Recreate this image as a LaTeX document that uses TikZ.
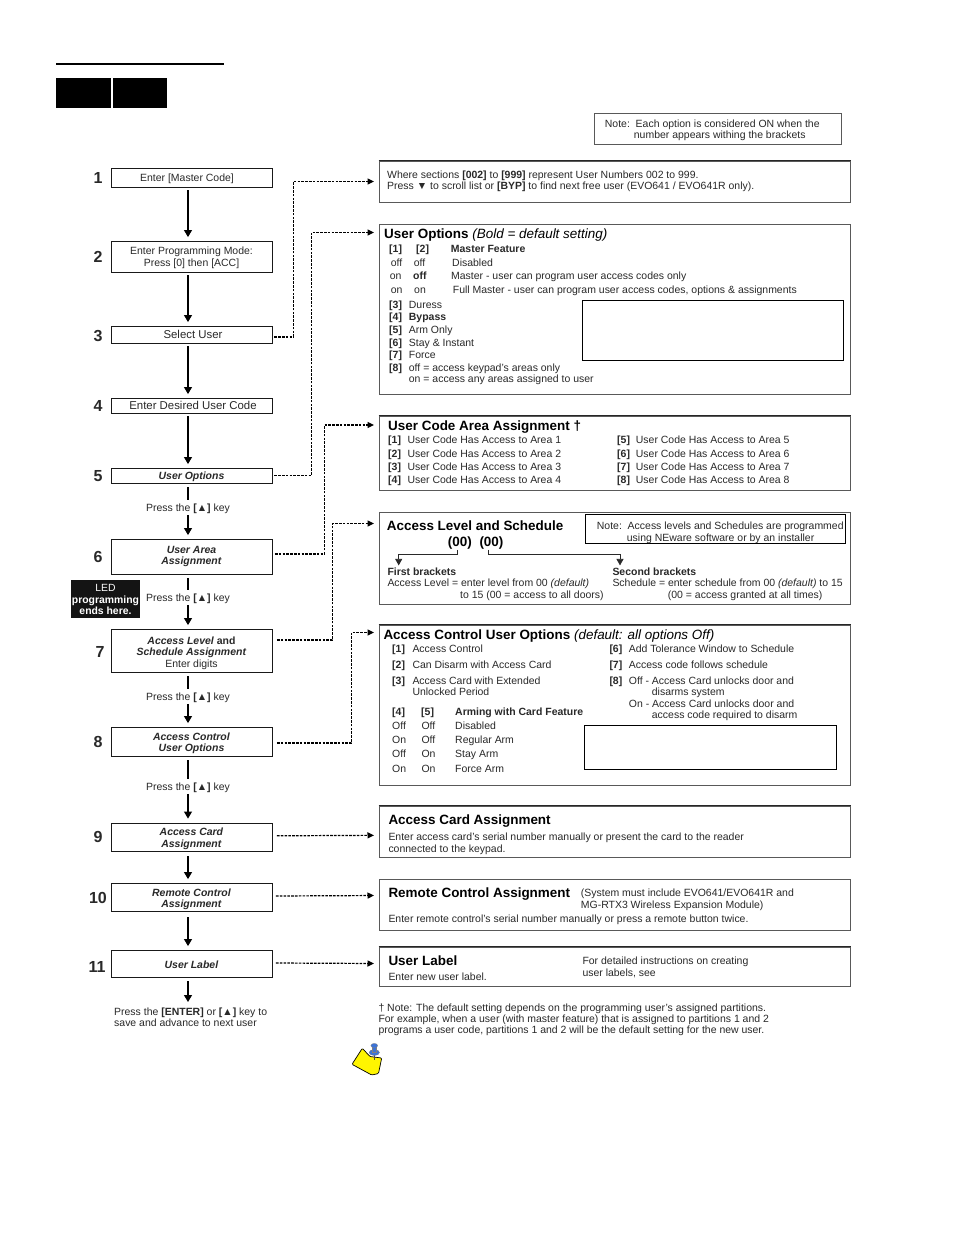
\documentclass[tikz,border=0pt]{standalone}
\usepackage{fontspec}
\setmainfont{Liberation Sans}
\usetikzlibrary{arrows.meta}
\definecolor{inkgray}{gray}{0.16}
\definecolor{paneledge}{gray}{0.35}
\definecolor{pinblue}{RGB}{60,115,215}
\definecolor{noteyellow}{RGB}{255,245,0}
\newcommand{\plainfont}{\fontsize{10.47}{11.6}\selectfont}
\newcommand{\headfont}{\fontsize{13.45}{15}\selectfont}
\newcommand{\boldit}[1]{\textbf{\textit{#1}}}
\newcommand{\drop}[1]{\rule{0pt}{#1}}
\tikzset{
  stepbox/.style={draw=black!90,line width=0.9pt,fill=white,minimum width=161pt,inner sep=0pt,align=center,text=inkgray,font=\plainfont},
  stepnum/.style={inner sep=0pt,text=inkgray,font=\fontsize{16}{18}\selectfont\bfseries},
  panel/.style={draw=paneledge,line width=1pt,fill=white,minimum width=471pt,inner sep=0pt},
  panelhead/.style={draw=black!85,line width=1.3pt},
  blank/.style={draw=black,line width=0.8pt,fill=white,inner sep=0pt},
  txt/.style={anchor=west,inner sep=0pt,text height=10pt,text depth=2.2pt,text=inkgray,font=\plainfont},
  head/.style={anchor=west,inner sep=0pt,text height=12.5pt,text depth=2.8pt,text=black,font=\headfont},
  presskey/.style={inner xsep=0pt,inner ysep=1pt,outer sep=0pt,text height=10.5pt,text depth=2.2pt,text=inkgray,font=\plainfont},
  flow/.style={line width=1.1pt,draw=black,-{Triangle[length=7pt,width=8pt]}},
  flowplain/.style={line width=1.1pt,draw=black},
  link/.style={line width=1.2pt,dash pattern=on 2.6pt off 1.2pt,draw=black,-{Triangle[length=6.5pt,width=6pt]},shorten >=4.5pt},
  bracketline/.style={line width=0.7pt,draw=inkgray,-{Triangle[length=6.5pt,width=7pt]}},
}
\begin{document}
\begin{tikzpicture}[x=1pt,y=-1pt]
\useasboundingbox (0,0) rectangle (954,1235);
\fill[white] (0,0) rectangle (954,1235);
\coordinate (spine) at (188,0);

% page header
\node[fill=black,minimum width=168pt,minimum height=2.4pt,inner sep=0pt] (rule) at (140,64) {};
\node[fill=black,minimum width=55pt,minimum height=30pt,inner sep=0pt] (tabA) at (83.5,93) {};
\node[fill=black,minimum width=54pt,minimum height=30pt,inner sep=0pt] (tabB) at (140,93) {};
\node[draw=paneledge,line width=1pt,minimum width=247pt,minimum height=31pt,inner sep=0pt] (topnote) at (717.5,128.5) {};
\node[txt] (topnoteA) at (604.7,124) {Note:\ \ Each option is considered ON when the};
\node[txt] (topnoteB) at (633.7,135) {number appears withing the brackets};

% left column
\node[stepbox,minimum height=19pt] (b1) at (191.5,177.5) {\drop{10pt}Enter [Master Code]\hspace*{9pt}};
\node[stepbox,minimum height=31pt] (b2) at (191.5,256.5) {\drop{10pt}Enter Programming Mode:\\Press [0] then [ACC]};
\node[stepbox,minimum height=17pt,font=\fontsize{11.4}{13}\selectfont] (b3) at (191.5,334.5) {\hspace*{3pt}Select User};
\node[stepbox,minimum height=15pt,font=\fontsize{11.4}{13}\selectfont] (b4) at (191.5,405.5) {\hspace*{3pt}Enter Desired User Code};
\node[stepbox,minimum height=15pt] (b5) at (191.5,475.5) {\drop{10pt}\boldit{User Options}};
\node[stepbox,minimum height=35pt] (b6) at (191.5,556.5) {\boldit{User Area}\\\boldit{Assignment}};
\node[stepbox,minimum height=43pt] (b7) at (191.5,650.5) {\drop{13pt}\boldit{Access Level} \textbf{and}\\\boldit{Schedule Assignment}\\Enter digits};
\node[stepbox,minimum height=29pt] (b8) at (191.5,741.5) {\drop{11pt}\boldit{Access Control}\\\boldit{User Options}};
\node[stepbox,minimum height=28pt] (b9) at (191.5,837) {\drop{11pt}\boldit{Access Card}\\\boldit{Assignment}};
\node[stepbox,minimum height=28pt] (b10) at (191.5,897) {\drop{12pt}\boldit{Remote Control}\\\boldit{Assignment}};
\node[stepbox,minimum height=27pt] (b11) at (191.5,963.5) {\drop{10.5pt}\boldit{User Label}};

\node[stepnum] (n1) at (98,178) {1};
\node[stepnum] (n2) at (98,257) {2};
\node[stepnum] (n3) at (98,336) {3};
\node[stepnum] (n4) at (98,406) {4};
\node[stepnum] (n5) at (98,476) {5};
\node[stepnum] (n6) at (98,557) {6};
\node[stepnum] (n7) at (100,652) {7};
\node[stepnum] (n8) at (98,742) {8};
\node[stepnum] (n9) at (98,837) {9};
\node[stepnum] (n10) at (98,898) {10};
\node[stepnum] (n11) at (97,967) {11};

\node[presskey] (key5) at (188,507.5) {Press the \textbf{[▲]} key};
\node[presskey] (key6) at (188,597.5) {Press the \textbf{[▲]} key};
\node[presskey] (key7) at (188,696.5) {Press the \textbf{[▲]} key};
\node[presskey] (key8) at (188,786.5) {Press the \textbf{[▲]} key};
\node[fill=black!92,minimum width=69pt,minimum height=38pt,inner sep=0pt,align=center,text=white,font=\fontsize{10.4}{11.5}\selectfont\bfseries] (ledflag) at (105.5,599) {\drop{9pt}\mdseries LED\\programming\\ends here.};
\node[anchor=north west,inner sep=0pt,align=left,text=inkgray,font=\plainfont] (savenote) at (114,1007.5) {Press the \textbf{[ENTER]} or \textbf{[▲]} key to\\save and advance to next user};

\draw[flow,shorten <=3pt,shorten >=3.5pt] (b1.south -| spine) -- (b2.north -| spine);
\draw[flow,shorten <=3pt,shorten >=3.5pt] (b2.south -| spine) -- (b3.north -| spine);
\draw[flow,shorten <=3pt,shorten >=3.5pt] (b3.south -| spine) -- (b4.north -| spine);
\draw[flow,shorten <=3pt,shorten >=3.5pt] (b4.south -| spine) -- (b5.north -| spine);
\draw[flowplain,shorten <=4pt] (b5.south -| spine) -- (key5.north);
\draw[flow,shorten >=3.5pt] (key5.south) -- (b6.north -| spine);
\draw[flowplain,shorten <=4pt] (b6.south -| spine) -- (key6.north);
\draw[flow,shorten >=3.5pt] (key6.south) -- (b7.north -| spine);
\draw[flowplain,shorten <=4pt] (b7.south -| spine) -- (key7.north);
\draw[flow,shorten >=3.5pt] (key7.south) -- (b8.north -| spine);
\draw[flowplain,shorten <=4pt] (b8.south -| spine) -- (key8.north);
\draw[flow,shorten >=4pt] (key8.south) -- (b9.north -| spine);
\draw[flow,shorten <=5pt,shorten >=3.5pt] (b9.south -| spine) -- (b10.north -| spine);
\draw[flow,shorten <=6pt,shorten >=3.5pt] (b10.south -| spine) -- (b11.north -| spine);
\draw[flow,shorten <=4pt,shorten >=5.5pt] (b11.south -| spine) -- (savenote.north -| spine);

% right column
\node[panel,minimum height=41pt] (p1) at (614.5,181.5) {};
\node[panel,minimum height=170pt] (p2) at (614.5,309) {};
\node[panel,minimum height=74pt] (p3) at (614.5,453) {};
\node[panel,minimum height=92pt] (p4) at (614.5,558) {};
\node[panel,minimum height=160pt] (p5) at (614.5,705) {};
\node[panel,minimum height=51pt] (p6) at (614.5,831.5) {};
\node[panel,minimum height=51pt] (p7) at (614.5,904.5) {};
\node[panel,minimum height=39pt] (p8) at (614.5,966.5) {};
\draw[panelhead] (p1.north west) -- (p1.north east);
\draw[panelhead] (p3.north west) -- (p3.north east);
\draw[panelhead] (p5.north west) -- (p5.north east);
\draw[panelhead] (p6.north west) -- (p6.north east);
\draw[panelhead] (p8.north west) -- (p8.north east);

\draw[link] ([xshift=2pt,yshift=-2.5pt]b3.east) -| ([xshift=-85pt,yshift=-21pt]p1.north west) -- ([yshift=-21pt]p1.north west);
\draw[link] ([xshift=2pt]b5.east) -| ([xshift=-67pt,yshift=-9pt]p2.north west) -- ([yshift=-9pt]p2.north west);
\draw[link] ([xshift=2.5pt,yshift=2.5pt]b6.east) -| ([xshift=-54pt,yshift=-9.5pt]p3.north west) -- ([yshift=-9.5pt]p3.north west);
\draw[link] ([xshift=4.5pt,yshift=10.5pt]b7.east) -| ([xshift=-46pt,yshift=-12pt]p4.north west) -- ([yshift=-12pt]p4.north west);
\draw[link] ([xshift=4.5pt,yshift=-1.5pt]b8.east) -| ([xshift=-27pt,yshift=-8pt]p5.north west) -- ([yshift=-8pt]p5.north west);
\draw[link] ([xshift=4.5pt,yshift=1.2pt]b9.east) -- ([yshift=-29.8pt]p6.north west);
\draw[link] ([xshift=3.5pt,yshift=1pt]b10.east) -- ([yshift=-17pt]p7.north west);
\draw[link] ([xshift=3.5pt,yshift=0.5pt]b11.east) -- ([yshift=-17pt]p8.north west);

% panel 1
\node[txt] (whereA) at (387,174.7) {Where sections \textbf{[002]} to \textbf{[999]} represent User Numbers 002 to 999.};
\node[txt] (whereB) at (387,186) {Press ▼ to scroll list or \textbf{[BYP]} to find next free user (EVO641 / EVO641R only).};

% panel 2
\node[head] (optT) at (384,234) {\textbf{User Options} \textit{(Bold = default setting)}};
\node[txt] (optH1) at (389,248.5) {\textbf{[1]}};
\node[txt] (optH2) at (416,248.5) {\textbf{[2]}};
\node[txt] (optH3) at (450.7,248.5) {\textbf{Master Feature}};
\node[txt] (optA1) at (390.7,263) {off};
\node[txt] (optA2) at (413.7,263) {off};
\node[txt] (optA3) at (452,263) {Disabled};
\node[txt] (optB1) at (389.7,276) {on};
\node[txt] (optB2) at (413,276) {\textbf{off}};
\node[txt] (optB3) at (451,276) {Master - user can program user access codes only};
\node[txt] (optC1) at (390.7,289.3) {on};
\node[txt] (optC2) at (414,289.3) {on};
\node[txt] (optC3) at (452.7,289.3) {Full Master - user can program user access codes, options \& assignments};
\foreach \n/\y/\t in {3/304.3/Duress,4/317/\textbf{Bypass},5/329.3/Arm Only,6/342.3/Stay \& Instant,7/355/Force,8/367.7/off = access keypad's areas only} {
  \node[txt] (optK\n) at (389,\y) {\textbf{[\n]}};
  \node[txt] (optV\n) at (408.7,\y) {\t};
}
\node[txt] (optV9) at (408.7,379) {on = access any areas assigned to user};
\node[blank,minimum width=261pt,minimum height=60pt] (blankA) at (712.5,330) {};

% panel 3
\node[head] (areaT) at (388,426) {\textbf{User Code Area Assignment †}};
\foreach \n/\m/\y in {1/5/440,2/6/453.3,3/7/466.3,4/8/479.7} {
  \node[txt] (areaK\n) at (388,\y) {\textbf{[\n]}};
  \node[txt] (areaV\n) at (407.3,\y) {User Code Has Access to Area \n};
  \node[txt] (areaK\m) at (617,\y) {\textbf{[\m]}};
  \node[txt] (areaV\m) at (635.7,\y) {User Code Has Access to Area \m};
}

% panel 4
\node[head] (lvlT) at (386.7,525.7) {\textbf{Access Level and Schedule}};
\node[head] (lvlA) at (447.7,542) {\textbf{(00)}};
\node[head] (lvlB) at (479.3,542) {\textbf{(00)}};
\node[blank,line width=1pt,minimum width=260pt,minimum height=29pt] (lvlnote) at (715,528.5) {};
\node[txt] (lvlnoteA) at (596.7,526) {Note:\ \ Access levels and Schedules are programmed};
\node[txt] (lvlnoteB) at (626.7,537.3) {using NEware software or by an installer};
\node[txt] (firstT) at (387.3,571.7) {\textbf{First brackets}};
\node[txt] (secondT) at (612.3,571.7) {\textbf{Second brackets}};
\node[txt] (firstA) at (387.3,583) {Access Level = enter level from 00 \textit{(default)}};
\node[txt] (firstB) at (460,594.3) {to 15 (00 = access to all doors)};
\node[txt] (secondA) at (612.3,583) {Schedule = enter schedule from 00 \textit{(default)} to 15};
\node[txt] (secondB) at (667.7,594.3) {(00 = access granted at all times)};
\draw[bracketline] ([xshift=-3pt]lvlA.south) -- ++(0,4.7) -| ([xshift=11.4pt]firstT.north west);
\draw[bracketline] ([xshift=-3.5pt]lvlB.south) -- ++(0,4.7) -| ([xshift=7.7pt]secondT.north west);

% panel 5
\node[head] (ctlT) at (383.3,634.3) {\textbf{Access Control User Options} \textit{(default: all options Off)}};
\node[txt] (ctlK1) at (392,648.3) {\textbf{[1]}};
\node[txt] (ctlV1) at (412.3,648.3) {Access Control};
\node[txt] (ctlK2) at (392,664.3) {\textbf{[2]}};
\node[txt] (ctlV2) at (412.3,664.3) {Can Disarm with Access Card};
\node[txt] (ctlK3) at (392,680.7) {\textbf{[3]}};
\node[txt] (ctlV3) at (412.3,680.7) {Access Card with Extended};
\node[txt] (ctlV3b) at (412.3,692) {Unlocked Period};
\node[txt] (ctlH4) at (392,711.7) {\textbf{[4]}};
\node[txt] (ctlH5) at (421,711.7) {\textbf{[5]}};
\node[txt] (ctlHf) at (455,711.7) {\textbf{Arming with Card Feature}};
\foreach \a/\b/\t/\y in {Off/Off/Disabled/725.3,On/Off/Regular Arm/739.7,Off/On/Stay Arm/754,On/On/Force Arm/768.3} {
  \node[txt] (arm\t) at (392,\y) {\a};
  \node[txt] (arm\t b) at (421.3,\y) {\b};
  \node[txt] (arm\t c) at (455,\y) {\t};
}
\node[txt] (ctlK6) at (609.3,648.3) {\textbf{[6]}};
\node[txt] (ctlV6) at (628.7,648.3) {Add Tolerance Window to Schedule};
\node[txt] (ctlK7) at (609.3,664.3) {\textbf{[7]}};
\node[txt] (ctlV7) at (628.7,664.3) {Access code follows schedule};
\node[txt] (ctlK8) at (609.3,680.7) {\textbf{[8]}};
\node[txt] (ctlV8) at (628.7,680.7) {Off - Access Card unlocks door and};
\node[txt] (ctlV8b) at (651.7,692) {disarms system};
\node[txt] (ctlV8c) at (628.7,703.3) {On - Access Card unlocks door and};
\node[txt] (ctlV8d) at (651.7,714.7) {access code required to disarm};
\node[blank,minimum width=252pt,minimum height=44pt] (blankB) at (710,747) {};

% panels 6 to 8
\node[head] (cardT) at (388.3,819.3) {\textbf{Access Card Assignment}};
\node[txt] (cardA) at (388.3,837) {Enter access card's serial number manually or present the card to the reader};
\node[txt] (cardB) at (388.3,848.3) {connected to the keypad.};
\node[head] (remT) at (388.3,892.3) {\textbf{Remote Control Assignment}};
\node[txt] (remA) at (580.7,893) {(System must include EVO641/EVO641R and};
\node[txt] (remB) at (580.7,904.7) {MG-RTX3 Wireless Expansion Module)};
\node[txt] (remC) at (388.3,919) {Enter remote control's serial number manually or press a remote button twice.};
\node[head] (lblT) at (388.3,960.7) {\textbf{User Label}};
\node[txt] (lblA) at (388.3,976.7) {Enter new user label.};
\node[txt] (lblB) at (582.3,961) {For detailed instructions on creating};
\node[txt] (lblC) at (582.3,972.3) {user labels, see};

% footnote
\node[txt] (footA) at (378.3,1007.3) {† Note: The default setting depends on the programming user's assigned partitions.};
\node[txt] (footB) at (378.3,1018.7) {For example, when a user (with master feature) that is assigned to partitions 1 and 2};
\node[txt] (footC) at (378.3,1030) {programs a user code, partitions 1 and 2 will be the default setting for the new user.};

% pinned note
\draw[line width=0.7pt,fill=noteyellow,rounded corners=1pt] (362.3,1048.3) -- (370,1056.5) -- (381.7,1058) -- (378.5,1073.5) -- (371.7,1075) -- (352,1064.3) -- cycle;
\draw[line width=0.8pt,black!70] (374.3,1050) -- (374.3,1060);
\fill[pinblue,draw=black!50,line width=0.3pt] (374.3,1052.5) ellipse [x radius=5.2pt,y radius=3pt];
\fill[pinblue,draw=black!50,line width=0.3pt] (372.4,1046.5) rectangle (376.2,1052);
\fill[pinblue,draw=black!50,line width=0.3pt] (374.3,1045.6) ellipse [x radius=3.4pt,y radius=2.2pt];
\end{tikzpicture}
\end{document}
